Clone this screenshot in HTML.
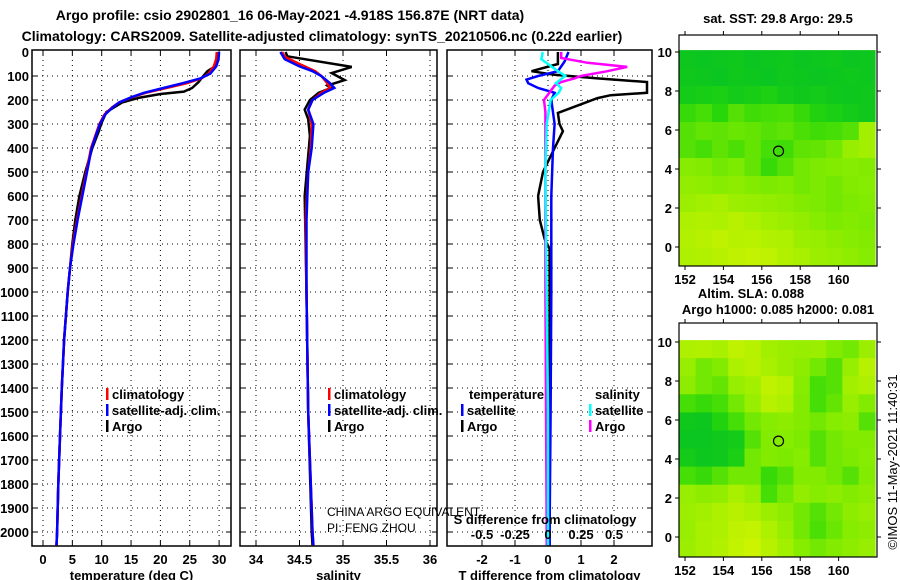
<!DOCTYPE html>
<html><head><meta charset="utf-8">
<style>
html,body{margin:0;padding:0;background:#fff;}
svg{display:block;font-family:"Liberation Sans",sans-serif;}
.b{font-weight:bold;font-size:13px;fill:#000;}
.t{font-weight:bold;font-size:14px;fill:#000;}
</style></head>
<body>
<svg id="chart" width="900" height="580" viewBox="0 0 900 580">
<text class="t" x="290" y="20" text-anchor="middle">Argo profile: csio 2902801_16 06-May-2021 -4.918S 156.87E (NRT data)</text>
<text class="t" x="322" y="41" text-anchor="middle">Climatology: CARS2009. Satellite-adjusted climatology: synTS_20210506.nc (0.22d earlier)</text>
<g id="g"></g>
</svg>
<script>
// ---- profile data ----
const tClimDepth = [0,30,60,90,110,130,150,170,190,210,230,260,300,400,500,600,700,800,900,1000,1200,1400,1600,1800,2000,2055];
const tClimVal   = [29.6,29.5,29.1,28.2,27.0,24.5,21.0,17.5,15.0,13.0,11.8,10.5,9.6,8.2,7.4,6.6,5.8,5.1,4.6,4.2,3.6,3.2,2.9,2.6,2.4,2.3];
const tSatDepth  = [0,30,60,90,110,130,150,170,190,210,230,260,300,400,500,600,700,800,900,1000,1200,1400,1600,1800,2000,2055];
const tSatVal    = [30.0,29.9,29.5,28.5,26.8,23.8,20.5,17.2,14.9,13.0,11.9,10.6,9.7,8.3,7.5,6.7,5.9,5.2,4.6,4.2,3.6,3.2,2.9,2.6,2.4,2.3];
const tArgoDepth = [0,30,60,80,100,125,150,165,175,190,210,250,300,330,400,500,600,700,800,900,1000,1200,1400,1600,1800,2000,2055];
const tArgoVal   = [29.8,29.7,29.3,28.0,27.3,26.5,25.4,24.0,20.0,16.5,13.5,10.8,9.9,9.5,8.4,7.2,6.2,5.5,5.0,4.6,4.2,3.6,3.2,2.9,2.6,2.4,2.3];
const sClimDepth = [0,20,50,80,100,130,150,170,200,240,300,400,500,700,1000,1500,2000,2055];
const sClimVal   = [34.30,34.33,34.5,34.68,34.75,34.82,34.85,34.75,34.65,34.6,34.64,34.63,34.6,34.57,34.58,34.6,34.65,34.66];
const sSatDepth  = [0,30,60,80,100,130,150,170,200,240,300,400,500,700,1000,1500,2000,2055];
const sSatVal    = [34.28,34.33,34.5,34.65,34.75,34.85,34.9,34.78,34.65,34.6,34.66,34.64,34.6,34.58,34.58,34.6,34.65,34.66];
const sArgoDepth = [0,18,62,88,117,140,150,170,200,240,280,350,600,1000,1500,2000,2055];
const sArgoVal   = [34.34,34.36,35.1,34.87,35.02,34.82,34.86,34.72,34.62,34.56,34.6,34.62,34.56,34.58,34.6,34.64,34.65];
const dTSatDepth = [0,40,80,100,115,130,150,170,200,300,400,600,1000,1500,2000,2055];
const dTSatVal   = [0.62,0.5,0.3,-0.3,-0.65,-0.6,-0.3,0.2,0.1,0.2,0.15,0.1,0.1,0.08,0.05,0.05];
const dTArgoDepth= [0,50,80,95,110,125,170,180,192,254,300,330,400,500,600,700,780,820,1000,1500,2000,2055];
const dTArgoVal  = [0.3,0.3,-0.5,0.2,1.5,3.0,3.0,1.9,1.5,0.3,0.35,0.45,0.2,-0.15,-0.3,-0.25,-0.1,0.05,0.05,0.05,0.05,0.05];
const dSSatDepth = [0,30,70,100,130,150,170,200,300,500,1000,1500,2000,2055];
const dSSatVal   = [-0.04,-0.05,0.05,0.13,0.06,0.1,0.08,0.02,-0.01,-0.02,-0.01,0,0,0];
const dSArgoDepth= [0,25,45,62,80,100,110,125,140,200,250,500,1000,2000,2055];
const dSArgoVal  = [0.1,0.1,0.3,0.6,0.45,0.25,0.2,0.1,0.05,-0.03,-0.02,-0.02,-0.02,-0.01,-0.01];
const depthTicks = [0,100,200,300,400,500,600,700,800,900,1000,1100,1200,1300,1400,1500,1600,1700,1800,1900,2000];
const tTicks = [0,5,10,15,20,25,30];
const sTicks = [34,34.5,35,35.5,36];
const dTTicks = [-2,-1,0,1,2];
const dSTicks = [-0.5,-0.25,0,0.25,0.5];
const dSLabels = ["-0.5","-0.25","0","0.25","0.5"];
// ---- map data (rows top->bottom lat 10.1..-1.0, cols lon 151.7..161.9), 0=dark green, 1=yellow ----
const sstGrid = [
[0.10,0.08,0.10,0.12,0.08,0.10,0.12,0.08,0.10,0.12,0.08,0.10],
[0.12,0.10,0.08,0.12,0.10,0.08,0.12,0.10,0.08,0.10,0.12,0.10],
[0.15,0.18,0.20,0.15,0.18,0.22,0.15,0.12,0.15,0.12,0.10,0.12],
[0.35,0.40,0.30,0.45,0.38,0.40,0.42,0.35,0.25,0.20,0.15,0.12],
[0.45,0.50,0.48,0.52,0.50,0.45,0.48,0.42,0.38,0.40,0.45,0.75],
[0.45,0.40,0.48,0.42,0.50,0.40,0.38,0.48,0.50,0.55,0.70,0.75],
[0.62,0.60,0.55,0.58,0.50,0.35,0.45,0.55,0.58,0.60,0.62,0.60],
[0.68,0.66,0.62,0.65,0.60,0.58,0.60,0.55,0.58,0.55,0.60,0.62],
[0.72,0.75,0.78,0.72,0.70,0.68,0.65,0.60,0.58,0.55,0.58,0.60],
[0.80,0.82,0.80,0.85,0.80,0.75,0.72,0.68,0.62,0.58,0.60,0.58],
[0.82,0.85,0.88,0.85,0.86,0.82,0.80,0.72,0.70,0.65,0.62,0.60],
[0.80,0.82,0.85,0.88,0.90,0.88,0.82,0.78,0.72,0.70,0.66,0.62]];
const slaGrid = [
[0.80,0.82,0.78,0.88,0.85,0.75,0.72,0.70,0.72,0.60,0.55,0.72],
[0.70,0.55,0.60,0.80,0.85,0.78,0.72,0.65,0.55,0.45,0.70,0.85],
[0.65,0.55,0.50,0.70,0.75,0.88,0.85,0.62,0.40,0.45,0.75,0.80],
[0.40,0.35,0.40,0.55,0.70,0.85,0.80,0.60,0.40,0.50,0.70,0.60],
[0.12,0.10,0.25,0.40,0.55,0.62,0.65,0.60,0.55,0.62,0.65,0.45],
[0.08,0.08,0.12,0.15,0.45,0.60,0.62,0.58,0.45,0.55,0.60,0.60],
[0.15,0.10,0.12,0.20,0.55,0.60,0.58,0.62,0.45,0.55,0.58,0.62],
[0.40,0.35,0.45,0.55,0.55,0.35,0.45,0.60,0.60,0.55,0.45,0.60],
[0.70,0.65,0.68,0.78,0.70,0.40,0.55,0.68,0.62,0.65,0.60,0.65],
[0.72,0.75,0.80,0.85,0.80,0.72,0.65,0.55,0.45,0.55,0.65,0.70],
[0.70,0.78,0.80,0.88,0.90,0.80,0.70,0.55,0.42,0.52,0.62,0.65],
[0.72,0.78,0.82,0.90,0.95,0.85,0.75,0.62,0.55,0.60,0.65,0.70]];
const sstTitle = "sat. SST: 29.8 Argo: 29.5";
const lonTicks = [152,154,156,158,160];
const latTicks = [0,2,4,6,8,10];
const argoLon = 156.87, argoLat = 4.918;

const NS = "http://www.w3.org/2000/svg";
const G = document.getElementById('g');
function el(tag, attrs, parent, txt){
  const e = document.createElementNS(NS, tag);
  for (const k in attrs) e.setAttribute(k, attrs[k]);
  if (txt !== undefined) e.textContent = txt;
  (parent || G).appendChild(e);
  return e;
}
const Y0 = 52, PXM = 0.24, YBOT = 546, YTOP = 50;
const yD = d => Y0 + d * PXM;
const panels = [
  {x0:32, x1:231, scale: v => 43 + v * 5.87, ticks: tTicks, labels: tTicks.map(String), title:"temperature (deg C)", name:"temperature"},
  {x0:240, x1:437, scale: v => 256 + (v - 34) * 87, ticks: sTicks, labels: sTicks.map(String), title:"salinity", name:"salinity"},
  {x0:447, x1:652, scale: v => 548 + v * 33, ticks: dTTicks, labels: dTTicks.map(String), title:"T difference from climatology", name:"difference"}
];
const sx = v => 548 + v * 132;

depthTicks.forEach(d => {
  const t = el('text', {x: 29, y: yD(d) + 5, 'text-anchor': 'end', class: 'b'}, G, String(d));
  
  
});

panels.forEach(p => {
  const grp = el('g', {});
  
  
  const cp = 'clip-' + p.name;
  const cl = el('clipPath', {id: cp}, grp);
  el('rect', {x: p.x0, y: YTOP, width: p.x1 - p.x0, height: YBOT - YTOP}, cl);
  depthTicks.forEach(d => {
    if (d === 0) return;
    const l = el('line', {x1: p.x0, x2: p.x1, y1: yD(d), y2: yD(d), stroke: '#000', 'stroke-width': 1, 'stroke-dasharray': '1,4'}, grp);
    
    
    el('line', {x1: p.x0, x2: p.x0 + 5, y1: yD(d), y2: yD(d), stroke: '#000'}, grp);
    el('line', {x1: p.x1 - 5, x2: p.x1, y1: yD(d), y2: yD(d), stroke: '#000'}, grp);
  });
  p.ticks.forEach((v, i) => {
    const x = p.scale(v);
    const l = el('line', {x1: x, x2: x, y1: YTOP, y2: YBOT, stroke: '#000', 'stroke-dasharray': '1,4'}, grp);
    
    
    el('line', {x1: x, x2: x, y1: YBOT - 5, y2: YBOT, stroke: '#000'}, grp);
    el('line', {x1: x, x2: x, y1: YTOP, y2: YTOP + 5, stroke: '#000'}, grp);
    const t = el('text', {x: x, y: 564, 'text-anchor': 'middle', class: 'b'}, grp, p.labels[i]);
    
    
  });
  const tt = el('text', {x: (p.x0 + p.x1) / 2, y: 580, 'text-anchor': 'middle', class: 'b'}, grp, p.title);
  
  
  p.clip = 'url(#' + cp + ')';
  p.grp = grp;
});

function line(p, xs, depths, vals, color, name){
  const pts = vals.map((v, i) => xs(v).toFixed(1) + ',' + yD(depths[i]).toFixed(1)).join(' ');
  const pl = el('polyline', {points: pts, fill: 'none', stroke: color, 'stroke-width': 2.5, 'clip-path': p.clip}, p.grp);
  
  
}
const P = panels;
line(P[0], P[0].scale, tArgoDepth, tArgoVal, '#000', 'temperature-argo-line');
line(P[0], P[0].scale, tClimDepth, tClimVal, '#f00', 'temperature-climatology-line');
line(P[0], P[0].scale, tSatDepth, tSatVal, '#00f', 'temperature-satellite-line');
line(P[1], P[1].scale, sArgoDepth, sArgoVal, '#000', 'salinity-argo-line');
line(P[1], P[1].scale, sClimDepth, sClimVal, '#f00', 'salinity-climatology-line');
line(P[1], P[1].scale, sSatDepth, sSatVal, '#00f', 'salinity-satellite-line');
line(P[2], P[2].scale, dTArgoDepth, dTArgoVal, '#000', 'tdiff-argo-line');
line(P[2], P[2].scale, dTSatDepth, dTSatVal, '#00f', 'tdiff-satellite-line');
line(P[2], sx, dSArgoDepth, dSArgoVal, '#f0f', 'sdiff-argo-line');
line(P[2], sx, dSSatDepth, dSSatVal, '#0ff', 'sdiff-satellite-line');

panels.forEach(p => {
  const r = el('rect', {x: p.x0, y: YTOP, width: p.x1 - p.x0, height: YBOT - YTOP, fill: 'none', stroke: '#000', 'stroke-width': 1.5}, p.grp);
  
  
});

dSTicks.forEach((v, i) => {
  const t = el('text', {x: sx(v), y: 539, 'text-anchor': 'middle', class: 'b'}, G, dSLabels[i]);
  
  
});
{ const t = el('text', {x: 545, y: 524, 'text-anchor': 'middle', class: 'b'}, G, 'S difference from climatology');
  
   }

function legend(x, y, color, label, name){
  const g = el('g', {});
  
  
  el('rect', {x: x, y: y - 11, width: 2.5, height: 12, fill: color}, g);
  el('text', {x: x + 6, y: y, class: 'b'}, g, label);
}
legend(106, 399, '#f00', 'climatology', 'legend-temp-climatology');
legend(106, 415, '#00f', 'satellite-adj. clim.', 'legend-temp-satellite');
legend(106, 431, '#000', 'Argo', 'legend-temp-argo');
legend(328, 399, '#f00', 'climatology', 'legend-sal-climatology');
legend(328, 415, '#00f', 'satellite-adj. clim.', 'legend-sal-satellite');
legend(328, 431, '#000', 'Argo', 'legend-sal-argo');
{ const t = el('text', {x: 469, y: 399, class: 'b'}, G, 'temperature');
   
  const u = el('text', {x: 595, y: 399, class: 'b'}, G, 'salinity');
    }
legend(461, 415, '#00f', 'satellite', 'legend-tdiff-satellite');
legend(461, 431, '#000', 'Argo', 'legend-tdiff-argo');
legend(589, 415, '#0ff', 'satellite', 'legend-sdiff-satellite');
legend(589, 431, '#f0f', 'Argo', 'legend-sdiff-argo');
{ const a = el('text', {x: 327, y: 516, 'font-size': 12, fill: '#000'}, G, 'CHINA ARGO EQUIVALENT');
   
  const b = el('text', {x: 327, y: 532, 'font-size': 12, fill: '#000'}, G, 'PI: FENG ZHOU');
    }

const stops = [[0,[0,190,40]],[0.3,[40,215,10]],[0.6,[130,235,0]],[1,[215,245,0]]];
function cmap(v){
  for (let i = 1; i < stops.length; i++){
    if (v <= stops[i][0]){
      const [a, ca] = stops[i-1], [b, cb] = stops[i];
      const f = (v - a) / (b - a);
      return 'rgb(' + ca.map((c, k) => Math.round(c + (cb[k] - c) * f)).join(',') + ')';
    }
  }
  return 'rgb(215,245,0)';
}
function drawMap(grid, fy0, fy1, lat10y, lat0y, name){
  const lonX = lon => 685 + (lon - 152) * 19.2;
  const latY = lat => lat0y + (lat10y - lat0y) * lat / 10;
  const g = el('g', {});
  
  
  const rows = grid.length, cols = grid[0].length;
  const lon0 = 151.7, lon1 = 161.9, latT = 10.1;
  const latB = (lat0y - fy1) / ((lat0y - lat10y) / 10);
  grid.forEach((row, r) => row.forEach((v, c) => {
    const xa = lonX(lon0 + (lon1 - lon0) * c / cols), xb = lonX(lon0 + (lon1 - lon0) * (c + 1) / cols);
    const ya = latY(latT - (latT - latB) * r / rows), yb = latY(latT - (latT - latB) * (r + 1) / rows);
    const cell = el('rect', {x: xa.toFixed(1), y: ya.toFixed(1), width: (xb - xa + 0.5).toFixed(1), height: (yb - ya + (r === rows - 1 ? 0 : 0.5)).toFixed(1), fill: cmap(v)}, g);
    
    
  }));
  el('rect', {x: 679, y: fy0, width: 198, height: fy1 - fy0, fill: 'none', stroke: '#000', 'stroke-width': 1.2}, g);
  lonTicks.forEach(l => {
    const x = lonX(l);
    el('line', {x1: x, x2: x, y1: fy1, y2: fy1 + 4, stroke: '#000'}, g);
    el('line', {x1: x, x2: x, y1: fy0, y2: fy0 - 4, stroke: '#000'}, g);
    const t = el('text', {x: x, y: fy1 + 18, 'text-anchor': 'middle', class: 'b'}, g, String(l));
     
  });
  latTicks.forEach(l => {
    const y = latY(l);
    el('line', {x1: 679, x2: 675, y1: y, y2: y, stroke: '#000'}, g);
    el('line', {x1: 877, x2: 881, y1: y, y2: y, stroke: '#000'}, g);
    const t = el('text', {x: 672, y: y + 5, 'text-anchor': 'end', class: 'b'}, g, String(l));
     
  });
  const c = el('circle', {cx: lonX(argoLon), cy: latY(argoLat), r: 5, fill: 'none', stroke: '#000', 'stroke-width': 1.2}, g);
   
}
drawMap(sstGrid, 35, 266, 52, 247, 'sst-map');
drawMap(slaGrid, 323, 557, 342, 537, 'sla-map');
{ const t = el('text', {x: 778, y: 23, 'text-anchor': 'middle', class: 'b'}, G, sstTitle);
   
  const a = el('text', {x: 751, y: 298, 'text-anchor': 'middle', class: 'b'}, G, 'Altim. SLA: 0.088');
   
  const b = el('text', {x: 778, y: 314, 'text-anchor': 'middle', class: 'b'}, G, 'Argo h1000: 0.085 h2000: 0.081');
   
  const c = el('text', {x: 0, y: 0, 'text-anchor': 'middle', 'font-size': 13, fill: '#000', transform: 'translate(897,462) rotate(-90)'}, G, '©IMOS 11-May-2021 11:40:31');
    }
</script>
</body></html>
